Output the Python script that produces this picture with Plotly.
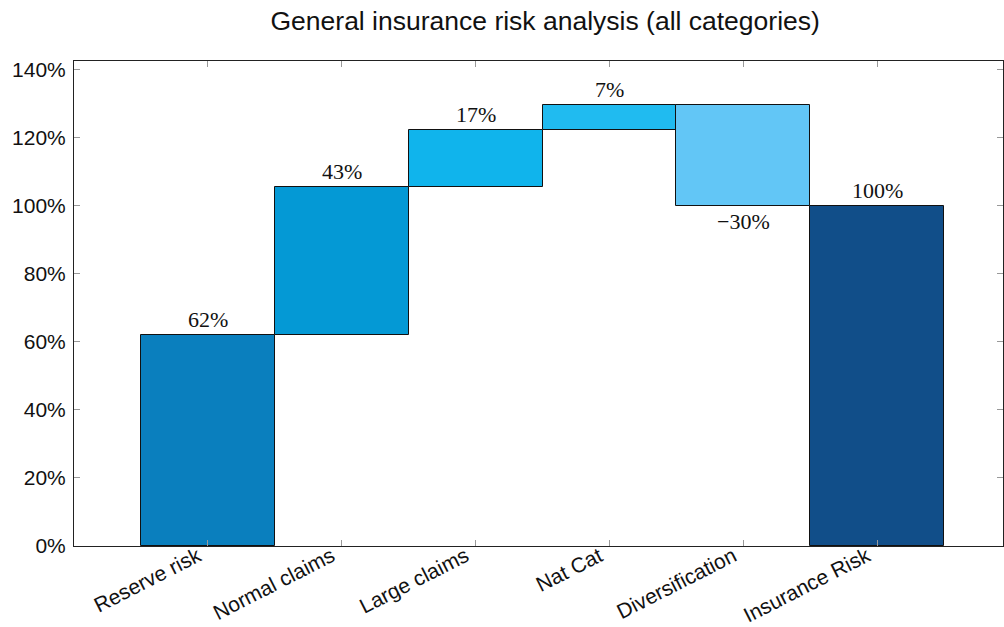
import plotly.graph_objects as go

categories = ["Reserve risk", "Normal claims", "Large claims", "Nat Cat", "Diversification", "Insurance Risk"]
increments = [62.0, 43.3, 16.7, 7.4, -29.6]
colors = ["#0a7fbe", "#0499d5", "#10b4ec", "#20bbf0", "#62c6f6", "#114e89"]
y_ticks = [0, 20, 40, 60, 80, 100, 120, 140]

total = sum(increments)
bases, heights = [], []
running = 0.0
for v in increments:
    bases.append(running)
    heights.append(v)
    running += v
bases.append(0.0)
heights.append(total)

fig = go.Figure()
fig.add_trace(go.Bar(
    x=list(range(len(categories))), y=heights, base=bases, width=1.0,
    marker=dict(color=colors, line=dict(color="#111111", width=1)),
    hoverinfo="skip", showlegend=False,
))

for i, (b, h) in enumerate(zip(bases, heights)):
    top = b + h
    if h >= 0:
        fig.add_annotation(x=i, y=top, text=f"{round(h):.0f}%", showarrow=False,
                           yanchor="bottom", yshift=1,
                           font=dict(family="Liberation Serif", size=22, color="#111111"))
    else:
        fig.add_annotation(x=i, y=top, text=f"\u2212{abs(round(h)):.0f}%", showarrow=False,
                           yanchor="top", yshift=-1,
                           font=dict(family="Liberation Serif", size=22, color="#111111"))

fig.update_layout(
    width=1004, height=627,
    margin=dict(l=74, r=1, t=61, b=81, autoexpand=False),
    paper_bgcolor="white", plot_bgcolor="white",
    title=dict(text="General insurance risk analysis (all categories)", x=0.543, xanchor="center",
               xref="container", yref="container", y=1, yanchor="top", pad=dict(t=11),
               font=dict(family="Liberation Sans", size=26.5, color="#111111")),
    bargap=0,
    font=dict(family="Liberation Sans", color="#111111"),
)
fig.update_xaxes(
    range=[-1.0, 5.94], tickmode="array", tickvals=list(range(len(categories))), ticktext=categories,
    tickangle=-27, ticks="inside", ticklen=6, tickcolor="#999999", automargin=False,
    ticklabelstandoff=-11, ticklabelshift=-10,
    showline=True, linecolor="#222222", linewidth=1, mirror="ticks", showgrid=False, zeroline=False,
    tickfont=dict(family="Liberation Sans", size=21, color="#111111"),
)
fig.update_yaxes(
    range=[0, 142.4], tickmode="array", tickvals=y_ticks, ticktext=[f"{t}%" for t in y_ticks],
    ticks="inside", ticklen=6, tickcolor="#999999", automargin=False, ticklabelstandoff=3,
    showline=True, linecolor="#222222", linewidth=1, mirror="ticks", showgrid=False, zeroline=False,
    tickfont=dict(family="Liberation Sans", size=21, color="#111111"),
)

fig.write_html("out.html", config={"displayModeBar": False},
               post_script="document.body.style.margin='0';document.body.style.overflow='hidden';")
